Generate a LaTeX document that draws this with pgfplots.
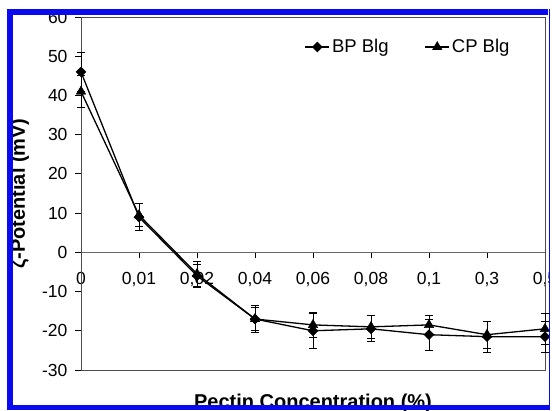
\documentclass[border=0pt]{standalone}
\usepackage{fontspec}
\setmainfont{Liberation Sans}
\usepackage{pgfplots}
\pgfplotsset{compat=1.18}
\definecolor{frameblue}{RGB}{10,10,240}

% diamond as wide as it is tall
\pgfdeclareplotmark{ediamond}{%
  \pgfpathmoveto{\pgfqpoint{0pt}{\pgfplotmarksize}}%
  \pgfpathlineto{\pgfqpoint{\pgfplotmarksize}{0pt}}%
  \pgfpathlineto{\pgfqpoint{0pt}{-\pgfplotmarksize}}%
  \pgfpathlineto{\pgfqpoint{-\pgfplotmarksize}{0pt}}%
  \pgfpathclose\pgfusepathqfillstroke}

\begin{document}
\begin{tikzpicture}[x=1pt,y=1pt]
\useasboundingbox (0,0) rectangle (552,410);
\begin{scope}
\clip (0,0) rectangle (552,410);
\begin{axis}[
  at={(81pt,40pt)}, anchor=south west,
  scale only axis, width=464pt, height=353pt,
  xmin=0, xmax=8, ymin=-30, ymax=60,
  axis x line*=middle, axis y line*=left,
  hide obscured x ticks=false,
  clip=false,
  xtick={0,...,8},
  xticklabels={0,{0,01},{0,02},{0,04},{0,06},{0,08},{0,1},{0,3},{0,5}},
  ytick={-30,-20,-10,0,10,20,30,40,50,60},
  yticklabels={-30,-20,-10,0,10,20,30,40,50,60},
  tick align=outside,
  major tick length=6pt,
  tick style={black, line width=0.8pt},
  x axis line style={black!60, line width=0.8pt},
  y axis line style={black, line width=0.9pt},
  tick label style={font=\fontsize{17.5}{17.5}\selectfont},
  xticklabel style={yshift=-10pt},
  yticklabel style={xshift=-4pt},
  xlabel={Pectin Concentration (\%)},
  ylabel={ζ-Potential (mV)},
  every axis x label/.style={at={(rel axis cs:0.5,0)}, anchor=base, yshift=-38.5pt,
    font=\bfseries\fontsize{20}{20}\selectfont},
  every axis y label/.style={at={(rel axis cs:0,0.5)}, shift={(-56pt,0pt)}, rotate=90, anchor=base,
    font=\bfseries\fontsize{20}{20}\selectfont},
  legend columns=2,
  legend style={at={(rel axis cs:0.705,0.915)}, anchor=center, draw=none, fill=none,
    font=\fontsize{18.5}{18.5}\selectfont,
    /tikz/every even column/.append style={column sep=34pt}},
  legend image code/.code={\draw[mark repeat=2,mark phase=2]
    plot coordinates {(0pt,0pt)(12pt,0pt)(24pt,0pt)};},
]
\draw[black!70, line width=0.8pt] (rel axis cs:0,0) rectangle (rel axis cs:1,1);

\addplot[black, line width=1.3pt, mark=ediamond, mark size=5pt,
  mark options={fill=black, line width=0.4pt},
  error bars/.cd, y dir=both, y explicit,
  error bar style={line width=0.9pt, black},
  error mark options={rotate=90, mark size=4pt, line width=0.9pt, black}]
coordinates {
  (0,46) +- (0,5)
  (1,9) +- (0,3.5)
  (2,-6) +- (0,3)
  (3,-17) +- (0,3.5)
  (4,-20) +- (0,4.5)
  (5,-19.5) +- (0,3.3)
  (6,-21) +- (0,4)
  (7,-21.5) +- (0,4)
  (8,-21.5) +- (0,4)
};
\addlegendentry{BP Blg}

\addplot[black, line width=1.3pt, mark=triangle*, mark size=5.5pt,
  mark options={fill=black, line width=0.4pt},
  error bars/.cd, y dir=both, y explicit,
  error bar style={line width=0.9pt, black},
  error mark options={rotate=90, mark size=4pt, line width=0.9pt, black}]
coordinates {
  (0,41) +- (0,4)
  (1,9.5) +- (0,3)
  (2,-5.5) +- (0,3.2)
  (3,-17) +- (0,3)
  (4,-18.5) +- (0,3.3)
  (5,-19) +- (0,3)
  (6,-18.5) +- (0,2.5)
  (7,-21) +- (0,3.5)
  (8,-19.5) +- (0,4)
};
\addlegendentry{CP Blg}
\end{axis}

% blue frame of the scanned figure
\fill[white] (0,0) rectangle (7,410);
\fill[white] (0,401) rectangle (552,410);
\fill[white] (550,0) rectangle (552,410);
\fill[frameblue] (7,0) rectangle (13,401);
\fill[frameblue] (7,395) rectangle (548,401);
\fill[frameblue] (7,0) rectangle (550,5);
\fill[frameblue] (548.5,0) rectangle (550,401);
\end{scope}
\end{tikzpicture}
\end{document}
